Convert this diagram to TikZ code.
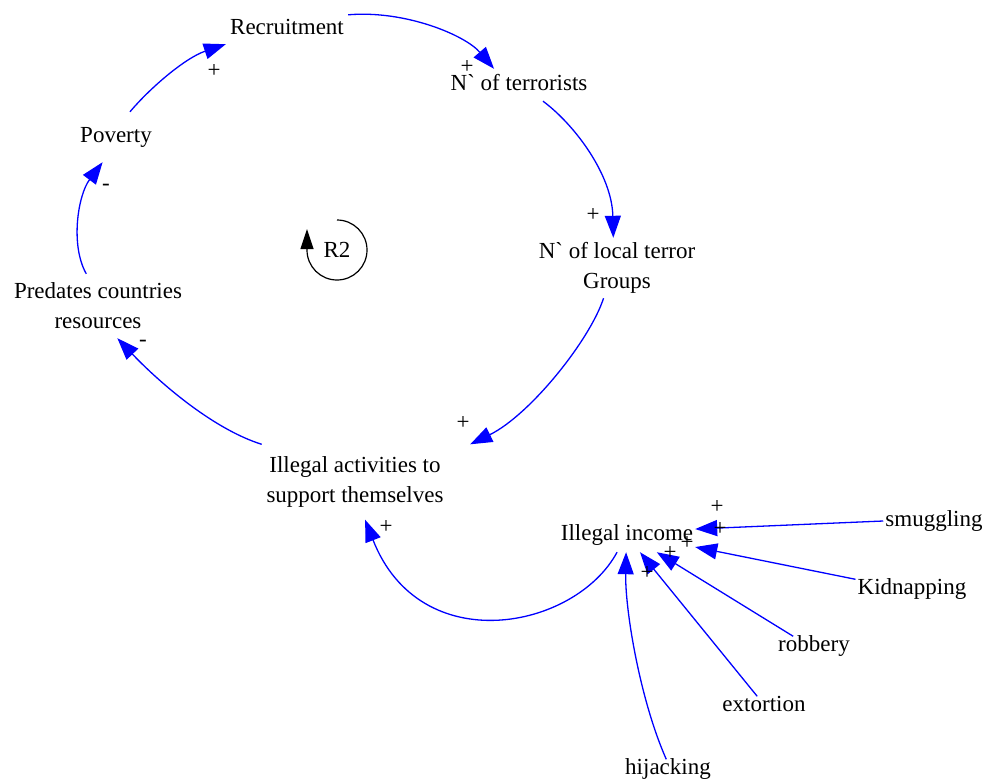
\documentclass[tikz,border=0pt]{standalone}
\usepackage{fontspec}
\newfontfamily\vfont{Liberation Serif}
\usetikzlibrary{arrows.meta}
\begin{document}
\begin{tikzpicture}[x=1pt,y=-1pt,
  txt/.style={font=\vfont\fontsize{23}{30}\selectfont},
  var/.style={txt, inner sep=0pt, align=center},
  one/.style={text height=15pt, text depth=4pt},
  link/.style={draw=blue, line width=1.3pt, -{Triangle[length=22pt,width=16pt]}},
  pol/.style={txt, inner sep=0pt},
  loopmark/.style={draw=black, line width=1.2pt, -{Triangle[length=20pt,width=13pt]}}]
\useasboundingbox (0,0) rectangle (983,784);
\fill[white] (0,0) rectangle (983,784);

% variables of the loop
\node[var,one,minimum width=122pt,minimum height=29pt] (rec) at (287,29.5) {Recruitment};
\node[var,one,minimum width=150pt,minimum height=32pt] (nt) at (519,85) {N` of terrorists};
\node[var,minimum width=170pt,minimum height=60pt] (nl) at (617,268) {N` of local terror\\Groups};
\node[var,minimum width=230pt,minimum height=75pt] (ill) at (355,482) {Illegal activities to\\support themselves};
\node[var,minimum width=176pt,minimum height=64pt] (pred) at (98,306) {Predates countries\\resources};
\node[var,one,minimum width=90pt,minimum height=50pt] (pov) at (116,137) {Poverty};

% income sources
\node[var,one,minimum width=136pt,minimum height=34pt] (inc) at (627,535) {Illegal income};
\node[var,one,inner xsep=2pt] (smug) at (934,521) {smuggling};
\node[var,one,inner xsep=2pt] (kid) at (912,589) {Kidnapping};
\node[var,one,inner xsep=2pt] (rob) at (814,646) {robbery};
\node[var,one,inner xsep=2pt] (ext) at (764,706) {extortion};
\node[var,one,inner xsep=2pt] (hij) at (668,769) {hijacking};

% loop links
\draw[link] (rec.north east) .. controls (405,10) and (465,35) .. (nt.147);
\draw[link] (nt.-34) .. controls (575,125) and (612,175) .. (nl.97);
\draw[link] (nl.-114) .. controls (590,340) and (530,415) .. (ill.north east);
\draw[link] (ill.158) .. controls (210,428) and (155,378) .. (pred.-59);
\draw[link] (pred.110) .. controls (70,245) and (78,195) .. (pov.-118);
\draw[link] (pov.61) .. controls (150,88) and (185,58) .. (rec.south west);

% income links
\draw[link] (inc.-120) .. controls (575,630) and (420,660) .. (ill.-75);
\draw[link] (smug.west) -- (inc.5);
\draw[link] (kid.north west) -- (inc.-10);
\draw[link] (rob.155) -- (inc.-30);
\draw[link] (ext.125) -- (inc.-53);
\draw[link] (hij.100) .. controls (640,700) and (625,610) .. (inc.-93);

% polarities
\node[pol] (p1) at (467,67) {+};
\node[pol] (p2) at (593,215) {+};
\node[pol] (p3) at (463,423) {+};
\node[pol] (p4) at (143,343) {-};
\node[pol] (p5) at (106,187) {-};
\node[pol] (p6) at (214,71) {+};
\node[pol] (p7) at (386,527) {+};
\node[pol] (p8) at (717,507) {+};
\node[pol] (p9) at (720,529) {+};
\node[pol] (p10) at (687,543) {+};
\node[pol] (p11) at (670,553) {+};
\node[pol] (p12) at (647,573) {+};

% loop identifier: clockwise circle ending in an upward tip
\node[var] (r2) at (337,250) {R2};
\draw[loopmark] (r2.center) ++(0,-30) arc[start angle=-90, end angle=180, radius=30] -- ++(0,-21);
\end{tikzpicture}
\end{document}
